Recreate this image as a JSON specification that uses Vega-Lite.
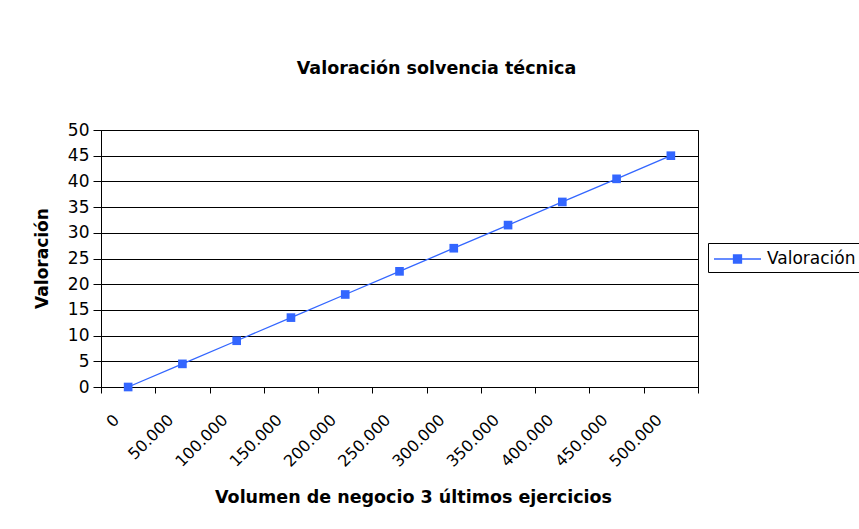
{
  "$schema": "https://vega.github.io/schema/vega-lite/v6.json",
  "width": 597,
  "height": 257,
  "autosize": {"type": "none"},
  "padding": {"left": 101, "top": 130, "right": 161, "bottom": 142},
  "background": "white",
  "title": {
    "text": "Valoración solvencia técnica",
    "font": "DejaVu Sans",
    "fontSize": 17.5,
    "fontWeight": "bold",
    "color": "black",
    "anchor": "middle",
    "dx": 37,
    "offset": 44
  },
  "data": {
    "values": [
      {"volumen": "0", "valoracion": 0, "serie": "Valoración"},
      {"volumen": "50.000", "valoracion": 4.5, "serie": "Valoración"},
      {"volumen": "100.000", "valoracion": 9, "serie": "Valoración"},
      {"volumen": "150.000", "valoracion": 13.5, "serie": "Valoración"},
      {"volumen": "200.000", "valoracion": 18, "serie": "Valoración"},
      {"volumen": "250.000", "valoracion": 22.5, "serie": "Valoración"},
      {"volumen": "300.000", "valoracion": 27, "serie": "Valoración"},
      {"volumen": "350.000", "valoracion": 31.5, "serie": "Valoración"},
      {"volumen": "400.000", "valoracion": 36, "serie": "Valoración"},
      {"volumen": "450.000", "valoracion": 40.5, "serie": "Valoración"},
      {"volumen": "500.000", "valoracion": 45, "serie": "Valoración"}
    ]
  },
  "mark": {
    "type": "line",
    "strokeWidth": 1.3,
    "point": {"shape": "square", "filled": true, "size": 75, "opacity": 1}
  },
  "encoding": {
    "x": {
      "field": "volumen",
      "type": "ordinal",
      "sort": null,
      "bandPosition": 0.5,
      "scale": {"type": "band", "paddingInner": 0, "paddingOuter": 0},
      "axis": {
        "title": "Volumen de negocio 3 últimos ejercicios",
        "titleFont": "DejaVu Sans",
        "titleFontSize": 17.5,
        "titleFontWeight": "bold",
        "titleColor": "black",
        "titleX": 312,
        "titleY": 115,
        "titleBaseline": "alphabetic",
        "labelAngle": -45,
        "labelAlign": "right",
        "labelBaseline": "middle",
        "labelFont": "DejaVu Sans",
        "labelFontSize": 16,
        "labelColor": "black",
        "labelPadding": 24,
        "labelOffset": -12,
        "tickBand": "extent",
        "tickSize": 6,
        "tickColor": "black",
        "domainColor": "black",
        "grid": false
      }
    },
    "y": {
      "field": "valoracion",
      "type": "quantitative",
      "scale": {"domain": [0, 50], "nice": false},
      "axis": {
        "title": "Valoración",
        "titleFont": "DejaVu Sans",
        "titleFontSize": 17,
        "titleFontWeight": "bold",
        "titleColor": "black",
        "titleX": -59,
        "titleY": 128,
        "titleAngle": -90,
        "titleAlign": "center",
        "titleBaseline": "middle",
        "values": [0, 5, 10, 15, 20, 25, 30, 35, 40, 45, 50],
        "labelFont": "DejaVu Sans",
        "labelFontSize": 17,
        "labelColor": "black",
        "labelPadding": 4,
        "tickSize": 8,
        "tickColor": "black",
        "domainColor": "black",
        "grid": true,
        "gridColor": "black",
        "gridOpacity": 1
      }
    },
    "color": {
      "field": "serie",
      "type": "nominal",
      "scale": {"range": ["#3366FF"]},
      "legend": {
        "title": null,
        "orient": "none",
        "legendX": 607,
        "legendY": 113,
        "strokeColor": "black",
        "fillColor": "white",
        "padding": 5,
        "labelFont": "DejaVu Sans",
        "labelFontSize": 17,
        "labelColor": "black",
        "labelOffset": 32,
        "symbolType": "M-1,0H3.7M0.95,-0.4H1.75V0.4H0.95Z",
        "symbolSize": 400,
        "symbolStrokeWidth": 1.3,
        "symbolFillColor": "#3366FF",
        "symbolStrokeColor": "#3366FF"
      }
    }
  },
  "config": {
    "view": {"stroke": "black", "strokeWidth": 1}
  }
}
